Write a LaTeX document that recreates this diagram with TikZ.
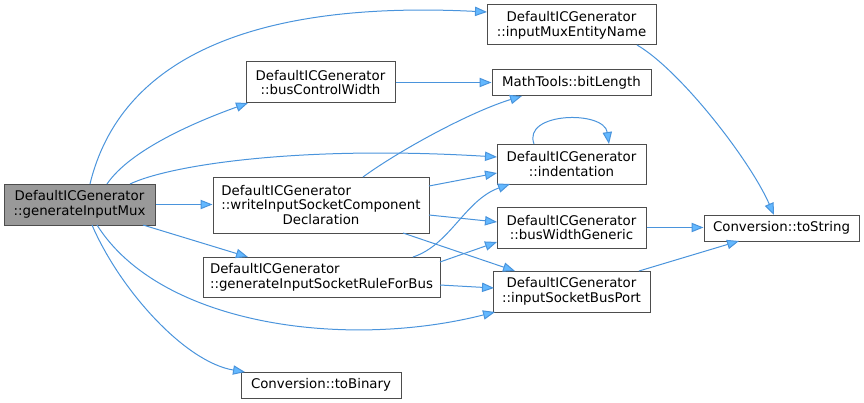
\documentclass[tikz,border=0pt]{standalone}
\usepackage{fontspec}
\setmainfont{DejaVu Sans}
\usetikzlibrary{arrows.meta,calc}
\definecolor{edgeblue}{HTML}{63B8FF}
\definecolor{edgeline}{HTML}{4A94DC}
\definecolor{boxline}{HTML}{4D4D4D}
\definecolor{rootfill}{HTML}{999999}
\begin{document}
\begin{tikzpicture}[x=0.75pt,y=-0.75pt,
  box/.style={draw=boxline, fill=white, line width=0.75pt, inner sep=0pt, align=center,
    font=\fontsize{10}{11}\selectfont, text=black},
  root/.style={box, fill=rootfill},
  edge/.style={draw=edgeline, line width=0.75pt,
    -{Triangle[length=9pt,width=7pt,fill=edgeblue]}}]
\useasboundingbox (0,0) rectangle (864,403);
% nodes
\node[root, minimum width=113.25pt, minimum height=30.75pt] (gim) at (79.5,204.5) {DefaultICGenerator\\::generateInputMux};
\node[box, minimum width=111.75pt, minimum height=30.75pt] (bcw) at (320.5,82.5) {DefaultICGenerator\\::busControlWidth};
\node[box, minimum width=162pt, minimum height=42pt] (wis) at (321,205) {\rlap{DefaultICGenerator}\phantom{::writeInputSocketComponent}\\::writeInputSocketComponent\\Declaration};
\node[box, align=left, minimum width=177.75pt, minimum height=30pt] (gis) at (321.5,277) {DefaultICGenerator\\::generateInputSocketRuleForBus};
\node[box, minimum width=120pt, minimum height=19.5pt] (tob) at (321,385) {Conversion::toBinary};
\node[box, minimum width=126.75pt, minimum height=30pt] (imen) at (571.5,25) {DefaultICGenerator\\::inputMuxEntityName};
\node[box, minimum width=119.25pt, minimum height=19.5pt] (bl) at (571.5,83) {MathTools::bitLength};
\node[box, minimum width=111.75pt, minimum height=30pt] (ind) at (571.5,164) {DefaultICGenerator\\::indentation};
\node[box, minimum width=111.75pt, minimum height=30.75pt] (bwg) at (571.5,227.5) {DefaultICGenerator\\::busWidthGeneric};
\node[box, minimum width=117.75pt, minimum height=30.75pt] (isbp) at (571.5,291.5) {DefaultICGenerator\\::inputSocketBusPort};
\node[box, minimum width=116.25pt, minimum height=19.5pt] (ts) at (781.5,228) {Conversion::toString};
% edges from generateInputMux
\draw[edge] ($(gim)+(10.5,-20.5)$) .. controls (120,60) and (250,0) .. ($(imen)+(-84.5,-13)$);
\draw[edge] ($(gim)+(27.5,-20.5)$) .. controls (130,150) and (195,122) .. ($(bcw)+(-72.5,20.5)$);
\draw[edge] ($(gim)+(50.5,-20.5)$) .. controls (170,165) and (300,145) .. ($(ind)+(-74.5,-7)$);
\draw[edge] (gim.east) -- (gim.east -| wis.west);
\draw[edge] ($(gim)+(63.5,20.5)$) -- ($(gis)+(-73.5,-20)$);
\draw[edge] ($(gim)+(17.5,20.5)$) .. controls (160,325) and (345,350) .. ($(isbp)+(-76.5,20.5)$);
\draw[edge] ($(gim)+(12.5,20.5)$) .. controls (120,290) and (185,362) .. ($(tob)+(-76,-13)$);
% edges from writeInputSocketComponentDeclaration
\draw[edge] ($(wis)+(42,-28)$) .. controls (400,150) and (470,112) .. ($(bl)+(-49.5,13)$);
\draw[edge] ($(wis)+(108,-19)$) -- ($(ind)+(-74.5,9)$);
\draw[edge] ($(wis)+(108,10)$) -- ($(bwg)+(-74.5,-5.5)$);
\draw[edge] ($(wis)+(82,28)$) -- ($(isbp)+(-56.5,-20.5)$);
% edges from generateInputSocketRuleForBus
\draw[edge] ($(gis)+(91.5,-20)$) .. controls (450,245) and (465,200) .. ($(ind)+(-61.5,20)$);
\draw[edge] ($(gis)+(118.5,-15)$) -- ($(bwg)+(-74.5,14.5)$);
\draw[edge] ($(gis)+(118.5,8)$) -- ($(isbp)+(-77.5,-3.5)$);
% other edges
\draw[edge] (bcw.east) -- (bcw.east -| bl.west);
\draw[edge] ($(ind)+(-37.5,-20)$) .. controls (522,112) and (604,110) .. ($(ind)+(37.5,-20)$);
\draw[edge] ($(imen)+(65.5,20)$) .. controls (680,70) and (750,160) .. ($(ts)+(-7.5,-13)$);
\draw[edge] (bwg.east) -- (bwg.east -| ts.west);
\draw[edge] ($(isbp)+(67.5,-20.5)$) -- ($(ts)+(-42.5,13)$);
\end{tikzpicture}
\end{document}
